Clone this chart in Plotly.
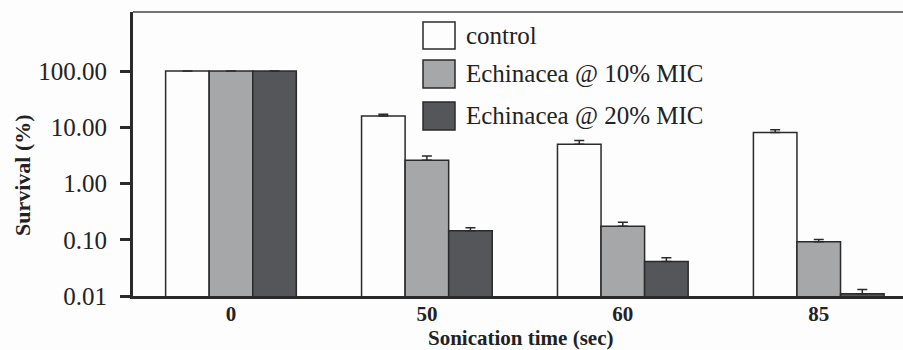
import plotly.graph_objects as go

categories = ["0", "50", "60", "85"]
series_names = ["control", "Echinacea @ 10% MIC", "Echinacea @ 20% MIC"]
control = [100, 15.8, 5.0, 8.1]
control_err = [0, 1.2, 0.8, 0.9]
mic10 = [100, 2.6, 0.174, 0.092]
mic10_err = [0, 0.5, 0.03, 0.009]
mic20 = [100, 0.144, 0.041, 0.011]
mic20_err = [0, 0.02, 0.007, 0.002]
y_tickvals = [0.01, 0.1, 1, 10, 100]
y_ticktext = ["0.01", "0.10", "1.00", "10.00", "100.00"]

colors = ["#fdfdfd", "#a6a7a9", "#55565a"]
edge = "#2a2a2a"
font = "Liberation Serif"
txt = "#222222"

W, H = 903, 350
L, R, T, B = 133, 0, 12, 54
pw, ph = W - L - R, H - T - B

fig = go.Figure()
for name, vals, errs, col in zip(series_names, [control, mic10, mic20],
                                 [control_err, mic10_err, mic20_err], colors):
    fig.add_trace(go.Bar(
        x=categories, y=vals, name=name,
        marker=dict(color=col, line=dict(color=edge, width=1.5)),
        error_y=dict(type="data", symmetric=False, array=errs,
                     arrayminus=[0] * len(errs), color=edge,
                     thickness=1.5, width=5, visible=True),
    ))

fig.update_layout(
    width=W, height=H, barmode="group", bargap=0.333, bargroupgap=0,
    margin=dict(l=L, r=R, t=T, b=B),
    paper_bgcolor="#fdfdfd", plot_bgcolor="#fdfdfd",
    showlegend=False,
    font=dict(family=font, color=txt),
)
fig.update_xaxes(
    type="category", range=[-0.5, 3.43],
    showline=True, linecolor=edge, linewidth=3, ticks="",
    showgrid=False, zeroline=False,
    ticklabelstandoff=-3,
    tickfont=dict(size=21, family=font, color=txt, weight="bold"),
)
fig.update_yaxes(
    type="log", range=[-2, 3.05],
    tickvals=y_tickvals, ticktext=y_ticktext,
    showline=True, linecolor=edge, linewidth=3,
    ticks="outside", ticklen=10, tickwidth=2.5, tickcolor=edge,
    ticklabelstandoff=8,
    showgrid=False, zeroline=False,
    tickfont=dict(size=25, family=font, color=txt),
)

# top border
fig.add_shape(type="line", xref="paper", yref="paper", x0=0, x1=1, y0=1, y1=1,
              line=dict(color="#444444", width=1.5))

def px_x(p):
    return (p - L) / pw

def px_y(p):
    return (H - B - p) / ph

# legend
rows = [(22, 49), (60, 88), (102, 130)]
for (y0, y1), name, col in zip(rows, series_names, colors):
    fig.add_shape(type="rect", xref="paper", yref="paper",
                  x0=px_x(423), x1=px_x(455), y0=px_y(y1), y1=px_y(y0),
                  fillcolor=col, line=dict(color=edge, width=1.5))
    fig.add_annotation(xref="paper", yref="paper", x=px_x(464),
                       y=px_y((y0 + y1) / 2), text=name, showarrow=False,
                       xanchor="left", yanchor="middle",
                       font=dict(size=25, family=font, color=txt))

# axis titles
fig.add_annotation(xref="paper", yref="paper", x=px_x(520), y=px_y(338),
                   text="<b>Sonication time (sec)</b>", showarrow=False,
                   xanchor="center", yanchor="middle",
                   font=dict(size=21, family=font, color=txt))
fig.add_annotation(xref="paper", yref="paper", x=px_x(22), y=px_y(175),
                   text="<b>Survival (%)</b>", showarrow=False, textangle=-90,
                   xanchor="center", yanchor="middle",
                   font=dict(size=22, family=font, color=txt))

fig.write_html("out.html", config={"displayModeBar": False},
               post_script="document.body.style.margin='0';")
